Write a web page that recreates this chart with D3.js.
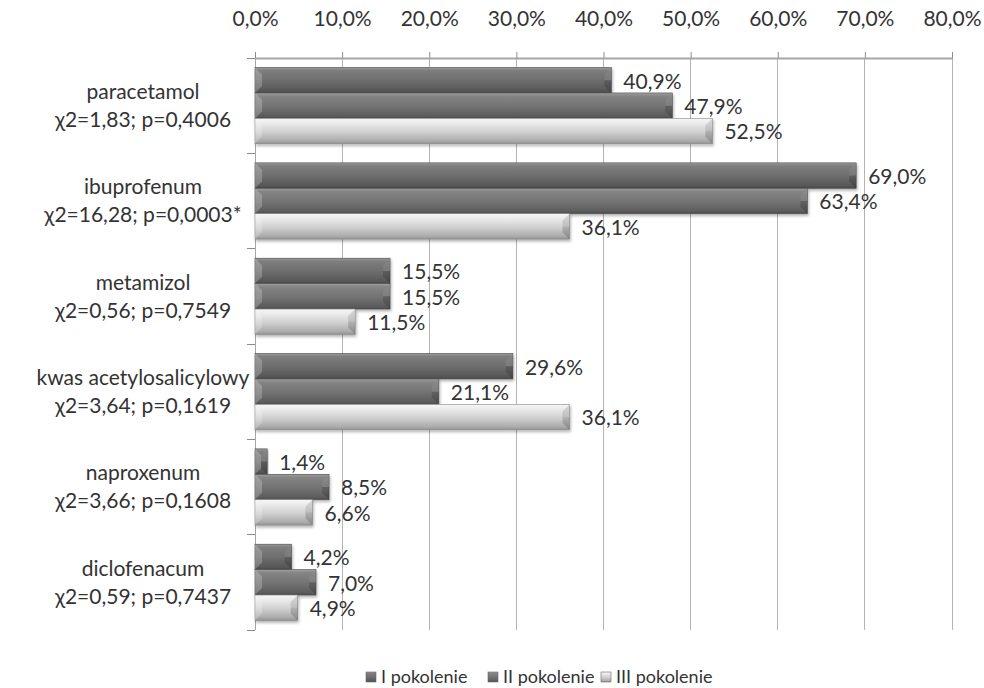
<!DOCTYPE html>
<html>
<head>
<meta charset="utf-8">
<script src="https://cdn.jsdelivr.net/npm/d3@7"></script>
<style>
  html, body { margin: 0; padding: 0; background: #fff; }
  svg { display: block; font-family: Lato, "Open Sans", sans-serif; }
</style>
</head>
<body>
<svg id="chart" width="984" height="688"></svg>
<script>
// Drug names and the chi-square test result shown under each name
const drugs = ["paracetamol", "ibuprofenum", "metamizol", "kwas acetylosalicylowy", "naproxenum", "diclofenacum"];
const stats = ["χ2=1,83; p=0,4006", "χ2=16,28; p=0,0003*", "χ2=0,56; p=0,7549", "χ2=3,64; p=0,1619", "χ2=3,66; p=0,1608", "χ2=0,59; p=0,7437"];

// Share of respondents (%) in each generation
const seriesNames = ["I pokolenie", "II pokolenie", "III pokolenie"];
const gen1 = [40.9, 69.0, 15.5, 29.6, 1.4, 4.2];
const gen2 = [47.9, 63.4, 15.5, 21.1, 8.5, 7.0];
const gen3 = [52.5, 36.1, 11.5, 36.1, 6.6, 4.9];
const tickValues = [0, 10, 20, 30, 40, 50, 60, 70, 80];

const series = [gen1, gen2, gen3];
const fmt = v => v.toFixed(1).replace(".", ",") + "%";

const svg = d3.select("#chart");
const plot = { left: 255, right: 952, top: 58, bottom: 630 };
const FS = 21;

const x = d3.scaleLinear().domain([0, 80]).range([plot.left, plot.right]);
const y = d3.scaleBand().domain(drugs).range([plot.top, plot.bottom])
  .paddingInner(0.2).paddingOuter(0.1);
const ySub = d3.scaleBand().domain(d3.range(series.length)).range([0, y.bandwidth()]);

// Gradients for the bevelled bars
const defs = svg.append("defs");
const grads = [
  [["0%", "#9a9a9a"], ["12%", "#7e7e7e"], ["55%", "#6c6c6c"], ["90%", "#575757"], ["100%", "#4a4a4a"]],
  [["0%", "#a0a0a0"], ["12%", "#858585"], ["55%", "#727272"], ["90%", "#5c5c5c"], ["100%", "#4e4e4e"]],
  [["0%", "#f6f6f6"], ["15%", "#eeeeee"], ["55%", "#cfcfcf"], ["90%", "#a9a9a9"], ["100%", "#8f8f8f"]]
];
grads.forEach((stops, i) => {
  const g = defs.append("linearGradient").attr("id", "g" + i)
    .attr("x1", 0).attr("y1", 0).attr("x2", 0).attr("y2", 1);
  stops.forEach(s => g.append("stop").attr("offset", s[0]).attr("stop-color", s[1]));
});
const sh = defs.append("filter").attr("id", "shadow")
  .attr("x", "-5%").attr("y", "-20%").attr("width", "115%").attr("height", "160%");
sh.append("feDropShadow").attr("dx", 1).attr("dy", 2).attr("stdDeviation", 1.5)
  .attr("flood-color", "#000").attr("flood-opacity", 0.3);

// Vertical gridlines
svg.append("g").selectAll("line").data(tickValues).join("line")
  .attr("x1", d => x(d)).attr("x2", d => x(d))
  .attr("y1", plot.top).attr("y2", plot.bottom)
  .attr("stroke", "#b4b4b4").attr("stroke-width", 1)
  .attr("shape-rendering", "crispEdges");

// Top value axis
const xAxis = svg.append("g").attr("transform", `translate(0,${plot.top})`)
  .call(d3.axisTop(x).tickValues(tickValues).tickFormat(fmt).tickSizeInner(6).tickSizeOuter(0).tickPadding(26));
xAxis.select(".domain").attr("stroke", "#a6a6a6").attr("stroke-width", 2);
xAxis.selectAll(".tick line").attr("stroke", "#8c8c8c");
xAxis.selectAll("text").attr("font-size", FS).attr("fill", "#333")
  .attr("font-family", "Lato, sans-serif");

// Left category axis: line plus ticks at category boundaries
const bounds = drugs.map(d => y(d) - y.step() * y.paddingInner() / 2).concat([plot.bottom]);
svg.append("line").attr("x1", plot.left).attr("x2", plot.left)
  .attr("y1", plot.top).attr("y2", plot.bottom)
  .attr("stroke", "#a6a6a6").attr("stroke-width", 1).attr("shape-rendering", "crispEdges");
svg.append("g").selectAll("line").data(bounds).join("line")
  .attr("x1", plot.left - 8).attr("x2", plot.left)
  .attr("y1", d => d).attr("y2", d => d)
  .attr("stroke", "#8c8c8c").attr("shape-rendering", "crispEdges");

// Category labels (two lines each)
const cat = svg.append("g").selectAll("text").data(drugs).join("text")
  .attr("x", 143)
  .attr("text-anchor", "middle")
  .attr("font-size", FS).attr("fill", "#333");
cat.append("tspan").attr("x", 143)
  .attr("y", d => y(d) + y.bandwidth() / 2 - 14).attr("dy", "0.35em")
  .text(d => d);
cat.append("tspan").attr("x", 143)
  .attr("y", d => y(d) + y.bandwidth() / 2 + 14).attr("dy", "0.35em")
  .text((d, i) => stats[i]);

// Bars
const rows = [];
series.forEach((vals, s) => vals.forEach((v, i) => rows.push({ s, i, v, drug: drugs[i] })));

const barH = ySub.bandwidth();
const barG = svg.append("g").selectAll("g").data(rows).join("g")
  .attr("transform", d => `translate(${x(0)},${y(d.drug) + ySub(d.s)})`);

barG.append("rect")
  .attr("width", d => x(d.v) - x(0)).attr("height", barH)
  .attr("fill", d => `url(#g${d.s})`)
  .attr("stroke", d => d.s === 2 ? "#8a8a8a" : "#4a4a4a").attr("stroke-width", 0.6)
  .attr("filter", "url(#shadow)");

// Bevel facets at the ends of each bar
const bev = 7;
barG.append("path")
  .attr("d", d => {
    const w = x(d.v) - x(0), b = Math.min(bev, w / 2);
    return `M0,0 L${b},${b} L${b},${barH - b} L0,${barH} Z`;
  })
  .attr("fill", "#fff").attr("opacity", 0.22);
barG.append("path")
  .attr("d", d => {
    const w = x(d.v) - x(0), b = Math.min(bev, w / 2);
    return `M${w},0 L${w - b},${b} L${w - b},${barH - b} L${w},${barH} Z`;
  })
  .attr("fill", "#000").attr("opacity", 0.16);
barG.append("path")
  .attr("d", d => {
    const w = x(d.v) - x(0), b = Math.min(bev, w / 2);
    return `M${w},0 L${w - b},${b} L${w - b},${barH / 2} L${w},${barH / 2} Z`;
  })
  .attr("fill", "#fff").attr("opacity", 0.18);

// Value labels
svg.append("g").selectAll("text").data(rows).join("text")
  .attr("x", d => x(d.v) + 12)
  .attr("y", d => y(d.drug) + ySub(d.s) + barH / 2 + 1)
  .attr("dy", "0.35em")
  .attr("font-size", FS).attr("fill", "#333")
  .text(d => fmt(d.v));

// Legend
const legX = [366, 488, 601];
const leg = svg.append("g").selectAll("g").data(seriesNames).join("g")
  .attr("transform", (d, i) => `translate(${legX[i]},${677})`);
leg.append("rect").attr("x", 0).attr("y", -5).attr("width", 10).attr("height", 10)
  .attr("fill", (d, i) => `url(#g${i})`).attr("stroke", "#6a6a6a").attr("stroke-width", 0.6);
leg.append("text").attr("x", 15).attr("dy", "0.35em")
  .attr("font-size", 18).attr("fill", "#333").text(d => d);
</script>
</body>
</html>
